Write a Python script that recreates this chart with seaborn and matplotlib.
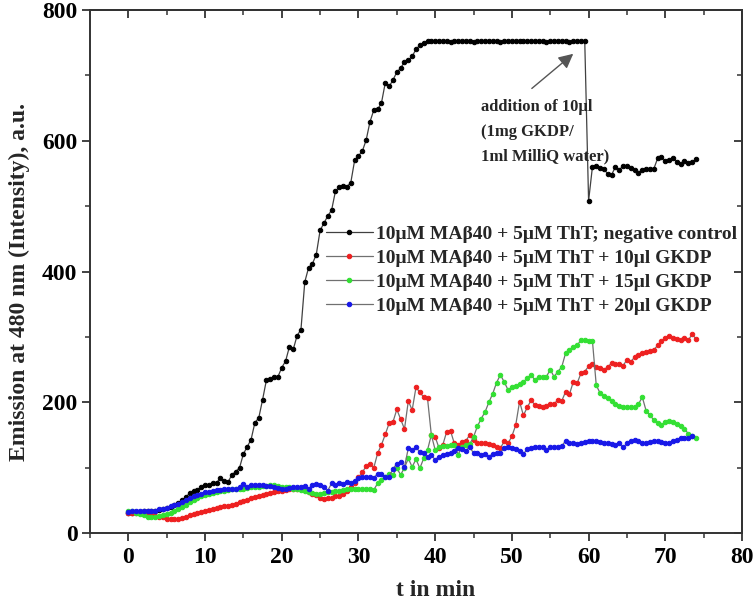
import numpy as np
import pandas as pd
import matplotlib
matplotlib.use("Agg")
import matplotlib.pyplot as plt
import seaborn as sns
from matplotlib.ticker import MultipleLocator

step_min = 0.5

neg_control = [
    30, 31, 32, 32, 33, 33, 33, 34, 35, 36,
    38, 40, 43, 46, 50, 55, 61, 65, 66, 70,
    74, 73, 77, 77, 84, 80, 78, 89, 94, 100,
    121, 132, 143, 169, 176, 204, 234, 235, 239, 239,
    253, 263, 285, 281, 302, 311, 384, 406, 412, 426,
    463, 474, 485, 494, 523, 529, 531, 530, 536, 570,
    577, 584, 601, 629, 647, 648, 658, 689, 683, 693,
    705, 711, 721, 723, 729, 740, 746, 750, 752, 752,
    752, 753, 752, 752, 751, 752, 752, 753, 752, 752,
    751, 752, 752, 752, 753, 752, 752, 751, 752, 752,
    752, 753, 752, 752, 752, 753, 753, 752, 752, 751,
    752, 752, 753, 752, 752, 751, 752, 753, 752, 752,
    508, 560, 562, 558, 557, 549, 548, 560, 556, 561,
    562, 558, 556, 551, 556, 557, 557, 557, 573, 575,
    569, 570, 574, 568, 564, 569, 566, 567, 572,
]

gkdp_10 = [
    30, 31, 30, 30, 29, 28, 27, 26, 25, 24,
    22, 22, 21, 22, 23, 25, 27, 29, 30, 32,
    34, 35, 37, 38, 40, 41, 42, 43, 45, 47,
    49, 51, 53, 55, 57, 58, 60, 61, 63, 64,
    65, 66, 67, 68, 68, 67, 66, 62, 60, 58,
    54, 52, 53, 54, 56, 57, 60, 65, 70, 76,
    85, 93, 102, 105, 100, 122, 135, 151, 168, 170,
    189, 174, 159, 202, 188, 223, 215, 208, 206, 150,
    147, 130, 135, 155, 156, 137, 135, 139, 141, 150,
    142, 138, 137, 137, 136, 135, 132, 130, 140, 137,
    148, 165, 201, 180, 192, 203, 196, 194, 193, 195,
    197, 198, 203, 202, 216, 212, 231, 229, 244, 247,
    255, 258, 254, 252, 250, 254, 260, 259, 258, 256,
    265, 262, 269, 272, 275, 277, 279, 280, 287, 293,
    298, 301, 298, 296, 295, 298, 295, 304, 297,
]

gkdp_15 = [
    34, 34, 31, 29, 27, 25, 25, 25, 26, 27,
    29, 31, 34, 37, 40, 43, 47, 50, 53, 56,
    58, 60, 61, 62, 64, 65, 66, 67, 67, 68,
    68, 69, 70, 70, 71, 72, 72, 73, 73, 72,
    71, 71, 70, 68, 67, 66, 64, 62, 61, 60,
    60, 61, 62, 63, 64, 65, 66, 67, 68, 68,
    67, 67, 67, 67, 66, 76, 81, 86, 91, 89,
    99, 89, 100, 114, 101, 113, 99, 114, 127, 150,
    127, 132, 133, 133, 134, 135, 120, 132, 134, 136,
    147, 163, 175, 185, 200, 213, 230, 242, 231, 219,
    223, 225, 228, 231, 237, 242, 234, 239, 238, 239,
    250, 239, 247, 254, 275, 280, 285, 287, 295, 295,
    294, 294, 226, 214, 209, 206, 202, 198, 194, 192,
    192, 192, 193, 197, 208, 187, 180, 173, 169, 165,
    170, 172, 170, 167, 164, 159, 152, 148, 145,
]

gkdp_20 = [
    32, 34, 34, 34, 33, 33, 34, 34, 36, 37,
    39, 41, 43, 45, 48, 51, 54, 56, 58, 60,
    62, 63, 65, 66, 66, 67, 67, 67, 68, 70,
    75, 71, 74, 74, 73, 73, 72, 72, 71, 69,
    68, 67, 69, 71, 70, 71, 72, 68, 73, 75,
    73, 71, 65, 76, 73, 77, 75, 78, 76, 80,
    84, 86, 85, 85, 84, 91, 90, 86, 86, 98,
    106, 109, 101, 130, 127, 131, 124, 122, 117, 119,
    112, 117, 119, 121, 122, 126, 130, 129, 126, 132,
    122, 122, 120, 121, 117, 121, 122, 123, 130, 131,
    130, 128, 126, 121, 128, 130, 131, 132, 132, 127,
    131, 132, 132, 133, 141, 137, 137, 136, 138, 139,
    140, 141, 141, 139, 137, 137, 136, 135, 137, 131,
    137, 140, 142, 140, 137, 138, 139, 140, 141, 139,
    138, 138, 141, 143, 145, 145, 145, 148,
]

series_labels = [
    "10\u03bcM MA\u03b240 + 5\u03bcM ThT; negative control",
    "10\u03bcM MA\u03b240 + 5\u03bcM ThT + 10\u03bcl GKDP",
    "10\u03bcM MA\u03b240 + 5\u03bcM ThT + 15\u03bcl GKDP",
    "10\u03bcM MA\u03b240 + 5\u03bcM ThT + 20\u03bcl GKDP",
]
series_values = [neg_control, gkdp_10, gkdp_15, gkdp_20]
marker_colors = ["#000000", "#ee2020", "#33e033", "#1818e8"]

x_ticks = [0, 10, 20, 30, 40, 50, 60, 70, 80]
y_ticks = [0, 200, 400, 600, 800]

# ---- style ----
sns.set_theme(style="ticks")
plt.rcParams["font.family"] = ["Liberation Serif", "DejaVu Serif"]
plt.rcParams["font.weight"] = "bold"
plt.rcParams["axes.labelweight"] = "bold"

fig = plt.figure(figsize=(7.53, 6.04), dpi=100)
ax = fig.add_axes([90 / 753, 1 - 533 / 604, 652 / 753, 523 / 604])

line_gray = "#707070"
for vals, lab, col in zip(series_values, series_labels, marker_colors):
    df = pd.DataFrame({"t": np.arange(len(vals)) * step_min, "v": vals})
    sns.lineplot(data=df, x="t", y="v", ax=ax, color=line_gray if col != "#000000" else "#404040",
                 linewidth=0.9, marker="o", markersize=3.2,
                 markerfacecolor=col, markeredgecolor=col, label=lab,
                 estimator=None, sort=False)

ax.set_xlim(-5, 80)
ax.set_ylim(0, 800)
ax.set_xticks(x_ticks)
ax.set_yticks(y_ticks)
ax.xaxis.set_minor_locator(MultipleLocator(5))
ax.yaxis.set_minor_locator(MultipleLocator(100))
tick_fs = 17
ax.tick_params(axis="both", which="major", direction="out", length=6, width=1.3,
               labelsize=tick_fs, colors="#333333", labelcolor="black")
ax.tick_params(axis="x", which="major", pad=4)
ax.tick_params(axis="y", which="major", pad=3)
ax.tick_params(axis="both", which="minor", direction="out", length=3.5, width=1.1,
               colors="#333333")
for lbl in ax.get_xticklabels() + ax.get_yticklabels():
    lbl.set_fontweight("bold")

secx = ax.secondary_xaxis("top")
secx.set_xticks(x_ticks)
secx.xaxis.set_minor_locator(MultipleLocator(5))
secx.tick_params(which="major", direction="in", length=6, width=1.3, labeltop=False, colors="#333333")
secx.tick_params(which="minor", direction="in", length=3.5, width=1.1, colors="#333333")
secy = ax.secondary_yaxis("right")
secy.set_yticks(y_ticks)
secy.yaxis.set_minor_locator(MultipleLocator(100))
secy.tick_params(which="major", direction="in", length=6, width=1.3, labelright=False, colors="#333333")
secy.tick_params(which="minor", direction="in", length=3.5, width=1.1, colors="#333333")

for sp in ax.spines.values():
    sp.set_linewidth(1.4)
    sp.set_color("#333333")
for s in (secx, secy):
    for sp in s.spines.values():
        sp.set_linewidth(1.4)
        sp.set_color("#333333")

ax.set_xlabel("t in min", fontsize=17, fontweight="bold")
ax.set_ylabel("Emission at 480 nm (Intensity), a.u.", fontsize=17, fontweight="bold")
ax.xaxis.set_label_coords((436 - 90) / 652, (533 - 580) / 523)
ax.yaxis.set_label_coords((30 - 90) / 652, (533 - 282) / 523)

leg = ax.legend(loc="upper left", bbox_to_anchor=(0.362, 0.588), frameon=False,
                fontsize=14, handlelength=2.4, handletextpad=0.15, labelspacing=0.33,
                borderaxespad=0, borderpad=0, numpoints=1)
for txt in leg.get_texts():
    txt.set_fontweight("bold")

ax.annotate("", xy=(58.0, 733), xytext=(52.6, 680),
            arrowprops=dict(arrowstyle="-|>", color="#555555", lw=1.0,
                            mutation_scale=22, shrinkA=0, shrinkB=0))
ax.text(46.0, 664, "addition of 10\u03bcl\n(1mg GKDP/\n1ml MilliQ water)",
        ha="left", va="top", fontsize=12, fontweight="bold", linespacing=1.72)

fig.savefig("out.png", dpi=100)
